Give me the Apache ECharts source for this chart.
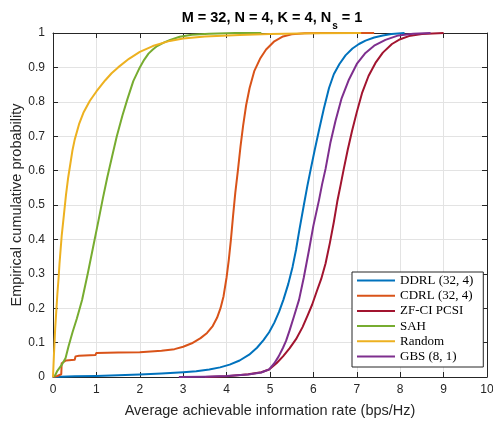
<!DOCTYPE html>
<html>
<head>
<meta charset="utf-8">
<script src="https://cdn.jsdelivr.net/npm/echarts@6/dist/echarts.min.js"></script>
<style>
  html, body { margin: 0; padding: 0; background: #fff; }
  #chart { width: 493px; height: 421px; }
</style>
</head>
<body>
<div id="chart"></div>
<script>
// Empirical CDF samples: [rate (bps/Hz), cumulative probability]
const ddrl = [[0,0],[0.5,0.002],[1,0.003],[1.5,0.005],[2,0.007],[2.5,0.01],[3,0.014],[3.3,0.017],[3.6,0.022],[3.85,0.028],[4.07,0.036],[4.3,0.048],[4.52,0.065],[4.7,0.085],[4.85,0.107],[4.98,0.13],[5.1,0.158],[5.21,0.19],[5.31,0.225],[5.42,0.27],[5.52,0.32],[5.6,0.37],[5.68,0.43],[5.78,0.5],[5.86,0.555],[5.94,0.605],[6.03,0.66],[6.13,0.718],[6.24,0.78],[6.36,0.84],[6.47,0.88],[6.6,0.91],[6.74,0.935],[6.9,0.955],[7.05,0.968],[7.2,0.978],[7.4,0.987],[7.6,0.993],[7.8,0.997],[8.1,1]];
const cdrl = [[0,0],[0.1,0.003],[0.19,0.008],[0.2,0.04],[0.22,0.045],[0.3,0.048],[0.5,0.05],[0.52,0.06],[0.6,0.062],[0.98,0.064],[1.0,0.07],[1.5,0.071],[2.0,0.072],[2.5,0.076],[2.8,0.081],[3.0,0.088],[3.2,0.098],[3.4,0.113],[3.55,0.128],[3.68,0.148],[3.78,0.172],[3.86,0.2],[3.93,0.235],[4.0,0.29],[4.05,0.34],[4.1,0.4],[4.15,0.47],[4.2,0.535],[4.26,0.6],[4.32,0.67],[4.38,0.73],[4.45,0.79],[4.53,0.84],[4.64,0.89],[4.77,0.925],[4.91,0.952],[5.1,0.976],[5.3,0.99],[5.5,0.996],[5.8,0.999],[6.2,1],[7.4,1]];
const zfci = [[3.5,0],[4,0.002],[4.5,0.008],[4.8,0.014],[4.98,0.022],[5.15,0.04],[5.3,0.06],[5.45,0.083],[5.6,0.11],[5.75,0.145],[5.87,0.18],[5.97,0.21],[6.08,0.25],[6.18,0.285],[6.28,0.33],[6.38,0.39],[6.47,0.45],[6.55,0.51],[6.63,0.56],[6.7,0.605],[6.79,0.66],[6.89,0.715],[7.0,0.77],[7.12,0.825],[7.27,0.875],[7.43,0.913],[7.6,0.943],[7.81,0.968],[8.0,0.982],[8.2,0.991],[8.5,0.997],[9.0,1]];
const sah = [[0,0],[0.05,0.005],[0.1,0.018],[0.2,0.035],[0.29,0.055],[0.36,0.09],[0.45,0.13],[0.55,0.17],[0.67,0.224],[0.8,0.3],[0.92,0.375],[1.05,0.456],[1.15,0.52],[1.25,0.58],[1.36,0.64],[1.47,0.7],[1.6,0.76],[1.72,0.81],[1.85,0.86],[2.0,0.9],[2.1,0.922],[2.2,0.94],[2.3,0.952],[2.4,0.962],[2.55,0.972],[2.7,0.98],[2.92,0.989],[3.2,0.995],[3.6,0.998],[4.2,1],[4.8,1]];
const random = [[0,0],[0.02,0.06],[0.05,0.14],[0.08,0.2],[0.1,0.24],[0.13,0.29],[0.15,0.33],[0.2,0.41],[0.25,0.47],[0.3,0.53],[0.35,0.58],[0.4,0.62],[0.45,0.66],[0.5,0.69],[0.6,0.735],[0.7,0.768],[0.85,0.803],[1.0,0.83],[1.2,0.862],[1.35,0.883],[1.5,0.9],[1.75,0.925],[2.0,0.945],[2.3,0.962],[2.69,0.977],[3.0,0.984],[3.5,0.99],[4.3,0.994],[5,0.997],[6,0.999],[7.1,1]];
const gbs = [[2.9,0],[3.5,0.001],[4,0.003],[4.5,0.007],[4.8,0.013],[4.98,0.022],[5.1,0.04],[5.2,0.06],[5.3,0.085],[5.37,0.105],[5.45,0.135],[5.55,0.175],[5.67,0.225],[5.78,0.29],[5.9,0.37],[6.0,0.44],[6.13,0.515],[6.2,0.56],[6.28,0.605],[6.39,0.68],[6.51,0.745],[6.65,0.81],[6.82,0.865],[7.0,0.91],[7.2,0.942],[7.4,0.963],[7.66,0.98],[7.96,0.993],[8.3,0.998],[8.7,1]];

const seriesNames = ['DDRL (32, 4)', 'CDRL (32, 4)', 'ZF-CI PCSI', 'SAH', 'Random', 'GBS (8, 1)'];
const seriesData = [ddrl, cdrl, zfci, sah, random, gbs];
const seriesColors = ['#0072BD', '#D95319', '#A2142F', '#77AC30', '#EDB120', '#7E2F8E'];

const xTicks = [0, 1, 2, 3, 4, 5, 6, 7, 8, 9, 10];
const yTicks = [0, 0.1, 0.2, 0.3, 0.4, 0.5, 0.6, 0.7, 0.8, 0.9, 1];

const axisColor = '#262626';
const gridColor = '#e3e3e3';
const sans = 'Liberation Sans, Arial, Helvetica, sans-serif';
const serif = 'Liberation Serif, Times New Roman, serif';

const chart = echarts.init(document.getElementById('chart'), null, { renderer: 'canvas' });

function frameAxis(pos, isX) {
  return {
    type: 'value',
    position: pos,
    min: 0,
    max: isX ? xTicks[xTicks.length - 1] : yTicks[yTicks.length - 1],
    interval: isX ? 1 : 0.1,
    axisLine: { show: true, onZero: false, lineStyle: { color: axisColor, width: 1 } },
    axisTick: { show: true, inside: true, length: 5, lineStyle: { color: axisColor } },
    axisLabel: { show: false },
    splitLine: { show: false }
  };
}

chart.setOption({
  animation: false,
  backgroundColor: '#fff',
  title: {
    text: '{a|M = 32, N = 4, K = 4, N}{s|s}{a| = 1}',
    left: 267,
    top: 5,
    textAlign: 'center',
    textStyle: {
      rich: {
        a: { fontFamily: sans, fontSize: 14.5, fontWeight: 'bold', color: '#000', lineHeight: 17, verticalAlign: 'top' },
        s: { fontFamily: sans, fontSize: 10, fontWeight: 'bold', color: '#000', lineHeight: 10, padding: [11, 0, 0, 1], verticalAlign: 'top' }
      }
    }
  },
  // vertical axis title, placed beside the tick labels
  graphic: [{
    type: 'text',
    x: 17,
    y: 205,
    rotation: Math.PI / 2,
    silent: true,
    style: {
      text: 'Empirical cumulative probability',
      fontFamily: sans,
      fontSize: 14.5,
      fill: axisColor,
      align: 'center',
      verticalAlign: 'middle'
    }
  }],
  grid: { left: 53, right: 6, top: 33, bottom: 44, containLabel: false, outerBoundsMode: 'none' },
  xAxis: [
    {
      type: 'value',
      position: 'bottom',
      min: 0,
      max: 10,
      interval: 1,
      name: 'Average achievable information rate (bps/Hz)',
      nameLocation: 'middle',
      nameGap: 26,
      nameTextStyle: { fontFamily: sans, fontSize: 14.5, color: axisColor },
      axisLine: { show: true, onZero: false, lineStyle: { color: axisColor, width: 1 } },
      axisTick: { show: true, inside: true, length: 5, lineStyle: { color: axisColor } },
      axisLabel: {
        margin: 7, fontFamily: sans, fontSize: 12, color: axisColor,
        formatter: v => String(v)
      },
      splitLine: { show: true, lineStyle: { color: gridColor, width: 1 } }
    },
    frameAxis('top', true)
  ],
  yAxis: [
    {
      type: 'value',
      position: 'left',
      min: 0,
      max: 1,
      interval: 0.1,
      axisLine: { show: true, onZero: false, lineStyle: { color: axisColor, width: 1 } },
      axisTick: { show: true, inside: true, length: 5, lineStyle: { color: axisColor } },
      axisLabel: {
        margin: 8, fontFamily: sans, fontSize: 12, color: axisColor,
        formatter: v => (Math.round(v * 10) / 10).toString()
      },
      splitLine: { show: true, lineStyle: { color: gridColor, width: 1 } }
    },
    frameAxis('right', false)
  ],
  legend: {
    orient: 'vertical',
    left: 352,
    top: 272,
    padding: [1, 10, 3, 5],
    itemGap: 0.2,
    itemWidth: 38,
    itemHeight: 2,
    icon: 'rect',
    backgroundColor: '#fff',
    borderColor: axisColor,
    borderWidth: 1,
    borderRadius: 0,
    data: seriesNames,
    textStyle: { fontFamily: serif, fontSize: 13, color: '#000', lineHeight: 15 }
  },
  series: seriesNames.map((name, i) => ({
    name: name,
    type: 'line',
    xAxisIndex: 0,
    yAxisIndex: 0,
    data: seriesData[i],
    showSymbol: false,
    symbol: 'none',
    smooth: false,
    color: seriesColors[i],
    lineStyle: { width: 2, color: seriesColors[i], join: 'round' },
    emphasis: { disabled: true }
  }))
});
</script>
</body>
</html>
